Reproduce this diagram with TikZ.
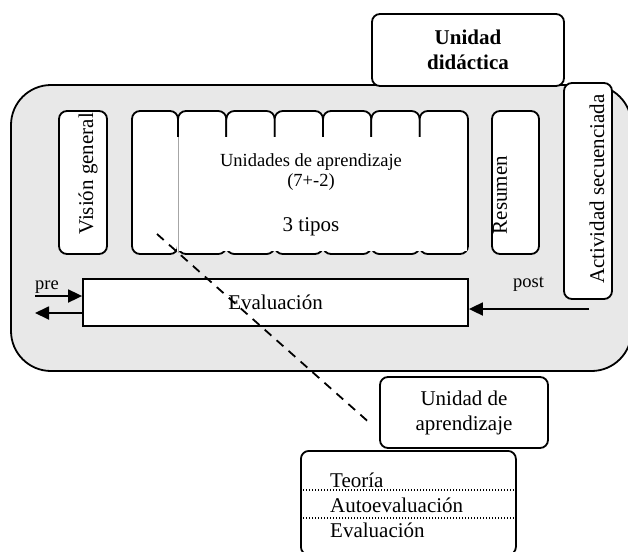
\documentclass[tikz,border=0pt]{standalone}
\usepackage{fontspec}
\setmainfont{Liberation Serif}
\usepackage{tikz}
\usetikzlibrary{arrows.meta, positioning}
\definecolor{fondo}{RGB}{232,232,232}
\newcommand{\letragrande}{\fontsize{21}{25}\selectfont}
\newcommand{\letrachica}{\fontsize{18.5}{22}\selectfont}
\tikzstyle{caja} = [draw, line width=1.8pt, fill=white, rounded corners=8pt, inner sep=0pt]
\tikzstyle{flecha} = [line width=1.8pt, -{Triangle[length=14pt,width=13pt]}]
\tikzstyle{vertical} = [rotate=90, inner sep=0pt, font=\letragrande]

\begin{document}
\begin{tikzpicture}[x=1pt, y=-1pt]
        \useasboundingbox (0,0) rectangle (628,551);
        \draw[line width=1.8pt, fill=fondo, rounded corners=40pt] (11,85) rectangle (631.5,371);
        \node[caja, minimum width=192pt, minimum height=72pt, align=center, font=\letragrande\bfseries] (didactica) at (468,50) {Unidad\\didáctica};
        \node[caja, minimum width=48pt, minimum height=216pt] (actividad) at (588,191) {};
        \node[vertical] (actividadtxt) at (597,189) {Actividad secuenciada};
        \node[caja, minimum width=48pt, minimum height=143pt] (vision) at (83,182.5) {};
        \node[vertical] (visiontxt) at (88,174) {Visión general};
        \node[caja, minimum width=46pt, minimum height=143pt] (unidad0) at (155,182.5) {};
        \foreach \i in {1,...,6}
                \node[caja, minimum width=48.33pt, minimum height=143pt] (unidad\i) at ({178+24.17+48.33*(\i-1)},182.5) {};
        \fill[white] (177,137) rectangle (466.6,251);
        \draw[gray!70, line width=0.6pt] (178,137) -- (178,253);
        \node[font=\letrachica, anchor=base] (titulo) at (311,166) {Unidades de aprendizaje};
        \node[font=\letrachica, anchor=base] (rango) at (311,186) {(7+-2)};
        \node[font=\letragrande, anchor=base] (tipos) at (311,231) {3 tipos};
        \node[caja, minimum width=47pt, minimum height=143pt] (resumen) at (515.5,182.5) {};
        \node[vertical] (resumentxt) at (500,195) {Resumen};
        \node[draw, line width=1.8pt, fill=white, minimum width=385pt, minimum height=47pt, inner sep=0pt, font=\letragrande] (evaluacion) at (275.5,302.5) {Evaluación};
        % pre / post
        \coordinate (prei) at (35,296);
        \coordinate (preo) at (35,313);
        \coordinate (posti) at (589,309);
        \draw[flecha] (prei) -- (prei -| evaluacion.west);
        \draw[flecha] (preo -| evaluacion.west) -- (preo);
        \draw[flecha] (posti) -- (posti -| evaluacion.east);
        \node[font=\letrachica, anchor=base west, inner sep=0pt] (pre) at (35,289) {pre};
        \node[font=\letrachica, anchor=base west, inner sep=0pt] (post) at (513,287) {post};
        % detalle de una unidad
        \node[caja, minimum width=168pt, minimum height=71pt, align=center, font=\letragrande] (aprendizaje) at (464,412.5) {Unidad de\\aprendizaje};
        \node[caja, minimum width=215pt, minimum height=104pt, anchor=north west] (contenido) at (300,450) {};
        \coordinate (lin1) at (300,490);
        \coordinate (lin2) at (300,518);
        \draw[line width=1.2pt, dash pattern=on 1.2pt off 1.8pt] (lin1) -- (lin1 -| contenido.east);
        \draw[line width=1.2pt, dash pattern=on 1.2pt off 1.8pt] (lin2) -- (lin2 -| contenido.east);
        \node[font=\letragrande, anchor=base west, inner sep=0pt] (teoria) at (330,487) {Teoría};
        \node[font=\letragrande, anchor=base west, inner sep=0pt] (autoeval) at (330,512) {Autoevaluación};
        \node[font=\letragrande, anchor=base west, inner sep=0pt] (eval) at (330,537) {Evaluación};
        \coordinate (dashA) at (157,234);
        \coordinate (dashB) at (372,425);
        \draw[line width=1.8pt, dash pattern=on 9pt off 7pt] (dashA) -- (dashB);
\end{tikzpicture}
\end{document}
